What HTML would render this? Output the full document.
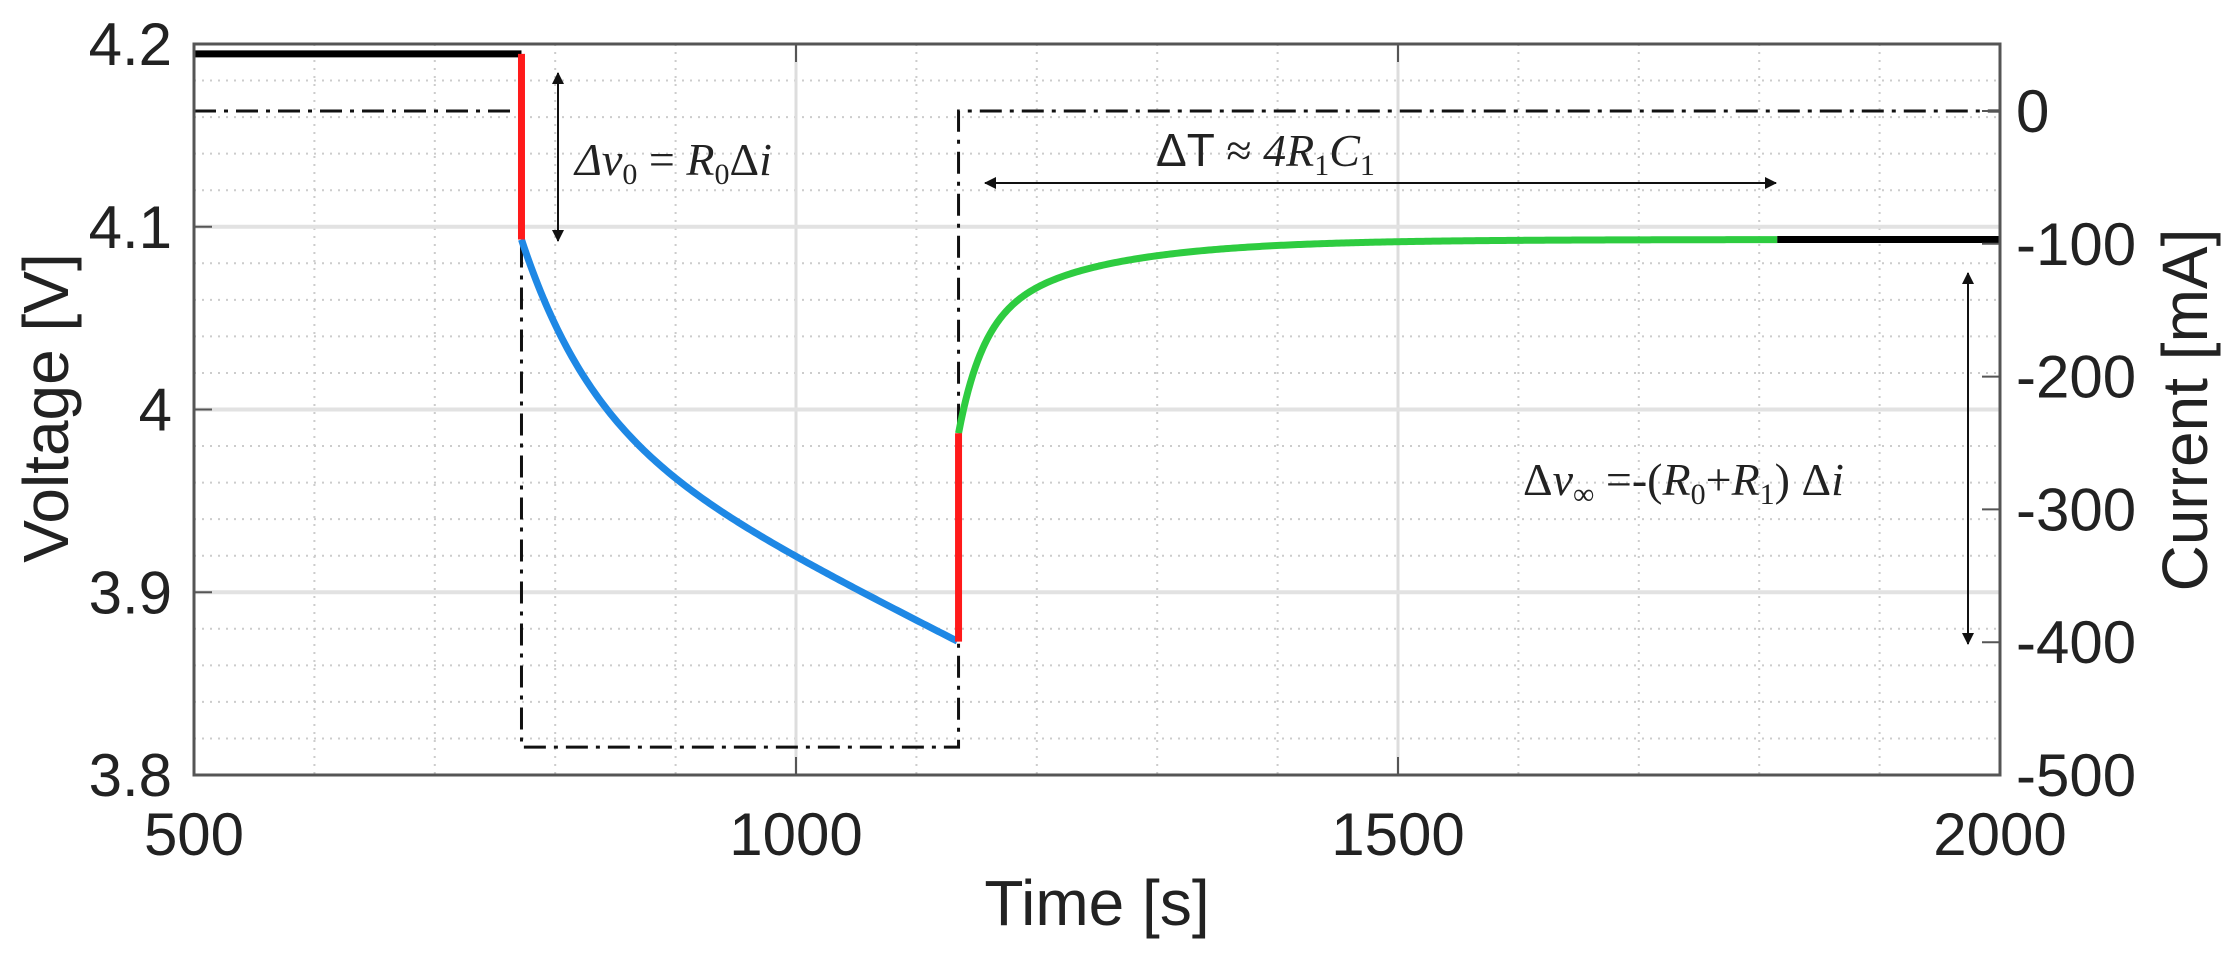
<!DOCTYPE html>
<html><head><meta charset="utf-8"><style>
html,body{margin:0;padding:0;background:#fff}
svg{display:block}
.t{font-family:"Liberation Sans",sans-serif;font-size:60px;fill:#222}
.ti{font-family:"Liberation Sans",sans-serif;font-size:64px;fill:#222}
.m{font-family:"Liberation Serif",serif;font-size:46px;fill:#222}
</style></head><body>
<svg id="s" width="2234" height="963" viewBox="0 0 2234 963" xmlns="http://www.w3.org/2000/svg">
<defs>
<marker id="ah" markerWidth="12" markerHeight="12" refX="11" refY="6" orient="auto-start-reverse" markerUnits="userSpaceOnUse"><path d="M0,0 L12,6 L0,12 z" fill="#111"/></marker>
</defs>
<g id="grid"></g>
<g id="data"></g>
<rect x="194" y="44" width="1806" height="731" fill="none" stroke="#555" stroke-width="3"/>
<g id="ticks"></g>
<line x1="558" y1="73" x2="558" y2="241" stroke="#111" stroke-width="2" marker-start="url(#ah)" marker-end="url(#ah)"/>
<text class="m" x="575" y="175" font-style="italic">Δ<tspan>v</tspan><tspan font-size="30" dy="9" font-style="normal">0</tspan><tspan dy="-9" font-style="normal"> = </tspan>R<tspan font-size="30" dy="9" font-style="normal">0</tspan><tspan dy="-9" font-style="normal">Δ</tspan>i</text>
<line x1="985" y1="183" x2="1776" y2="183" stroke="#111" stroke-width="2" marker-start="url(#ah)" marker-end="url(#ah)"/>
<text class="m" x="1156" y="166"><tspan font-family="Liberation Sans">ΔT</tspan> ≈ <tspan font-style="italic">4R</tspan><tspan font-size="30" dy="9">1</tspan><tspan dy="-9" font-style="italic">C</tspan><tspan font-size="30" dy="9">1</tspan></text>
<line x1="1968" y1="273" x2="1968" y2="644" stroke="#111" stroke-width="2" marker-start="url(#ah)" marker-end="url(#ah)"/>
<text class="m" x="1523" y="495">Δ<tspan font-style="italic">v</tspan><tspan font-size="30" dy="9">∞</tspan><tspan dy="-9"> =-(</tspan><tspan font-style="italic">R</tspan><tspan font-size="30" dy="9">0</tspan><tspan dy="-9">+</tspan><tspan font-style="italic">R</tspan><tspan font-size="30" dy="9">1</tspan><tspan dy="-9">) Δ</tspan><tspan font-style="italic">i</tspan></text>
<text class="ti" x="1097" y="925" text-anchor="middle">Time [s]</text>
<text class="ti" transform="translate(68,408) rotate(-90)" text-anchor="middle">Voltage [V]</text>
<text class="ti" transform="translate(2207,410) rotate(-90)" text-anchor="middle">Current [mA]</text>
</svg>
<script>
var NS="http://www.w3.org/2000/svg";
function X(t){return 194+(t-500)*1.204}
function Y(v){return 44+(4.2-v)*1827.5}
function C(m){return 111-m*1.328}
function el(p,n,a,txt){var e=document.createElementNS(NS,n);for(var k in a)e.setAttribute(k,a[k]);if(txt!=null)e.textContent=txt;document.getElementById(p).appendChild(e);return e}
for(var t=600;t<2000;t+=100){if(t%500==0)continue;el("grid","line",{x1:X(t),x2:X(t),y1:44,y2:775,stroke:"#ccc","stroke-width":2,"stroke-dasharray":"2 6"})}
for(var i=1;i<20;i++){if(i%5==0)continue;var y=44+i*731/20;el("grid","line",{x1:194,x2:2000,y1:y,y2:y,stroke:"#ccc","stroke-width":2,"stroke-dasharray":"2 6"})}
[1000,1500].forEach(function(t){el("grid","line",{x1:X(t),x2:X(t),y1:44,y2:775,stroke:"#ddd","stroke-width":3})});
[4.1,4.0,3.9].forEach(function(v){el("grid","line",{x1:194,x2:2000,y1:Y(v),y2:Y(v),stroke:"#e2e2e2","stroke-width":4})});
[500,1000,1500,2000].forEach(function(t){el("ticks","line",{x1:X(t),x2:X(t),y1:775,y2:757,stroke:"#555","stroke-width":2});el("ticks","line",{x1:X(t),x2:X(t),y1:44,y2:62,stroke:"#555","stroke-width":2});el("ticks","text",{"class":"t",x:X(t),y:855,"text-anchor":"middle"},String(t))});
[["4.2",4.2],["4.1",4.1],["4",4.0],["3.9",3.9],["3.8",3.8]].forEach(function(a){var y=Y(a[1]);el("ticks","line",{x1:194,x2:212,y1:y,y2:y,stroke:"#555","stroke-width":2});el("ticks","text",{"class":"t",x:172,y:y+21,"text-anchor":"end"},a[0])});
[0,-100,-200,-300,-400,-500].forEach(function(m){var y=C(m);el("ticks","line",{x1:1982,x2:2000,y1:y,y2:y,stroke:"#555","stroke-width":2});el("ticks","text",{"class":"t",x:2016,y:y+21},String(m))});
var tA=772,tB=1135;
el("data","polyline",{points:[X(500),C(0),X(tA),C(0),X(tA),C(-479),X(tB),C(-479),X(tB),C(0),X(2000),C(0)].join(" "),fill:"none",stroke:"#111","stroke-width":3,"stroke-dasharray":"22 8 4 8"});
function pl(pts,col){el("data","polyline",{points:pts.join(" "),fill:"none",stroke:col,"stroke-width":7,"stroke-linejoin":"round"})}
pl([X(500),Y(4.1946),X(tA),Y(4.1946)],"#000");
var b=[];for(var t=tA;t<=tB;t+=2){var d=t-tA;var v=4.093-0.1*(1-Math.exp(-d/60))-0.12*d/362;b.push(X(t),Y(v))}
pl(b,"#1e88e5");
var g=[];for(var t=tB;t<=1815;t+=2){var d=t-tB;var v=4.093-0.06*Math.exp(-d/20)-0.046*Math.exp(-d/100);g.push(X(t),Y(v))}
pl(g,"#2ecc40");
pl([X(1815),Y(4.093),X(2000),Y(4.093)],"#000");
pl([X(tA),Y(4.1946),X(tA),Y(4.093)],"#ff1a1a");
pl([X(tB),Y(3.873),X(tB),Y(3.987)],"#ff1a1a");
</script>
</body></html>
